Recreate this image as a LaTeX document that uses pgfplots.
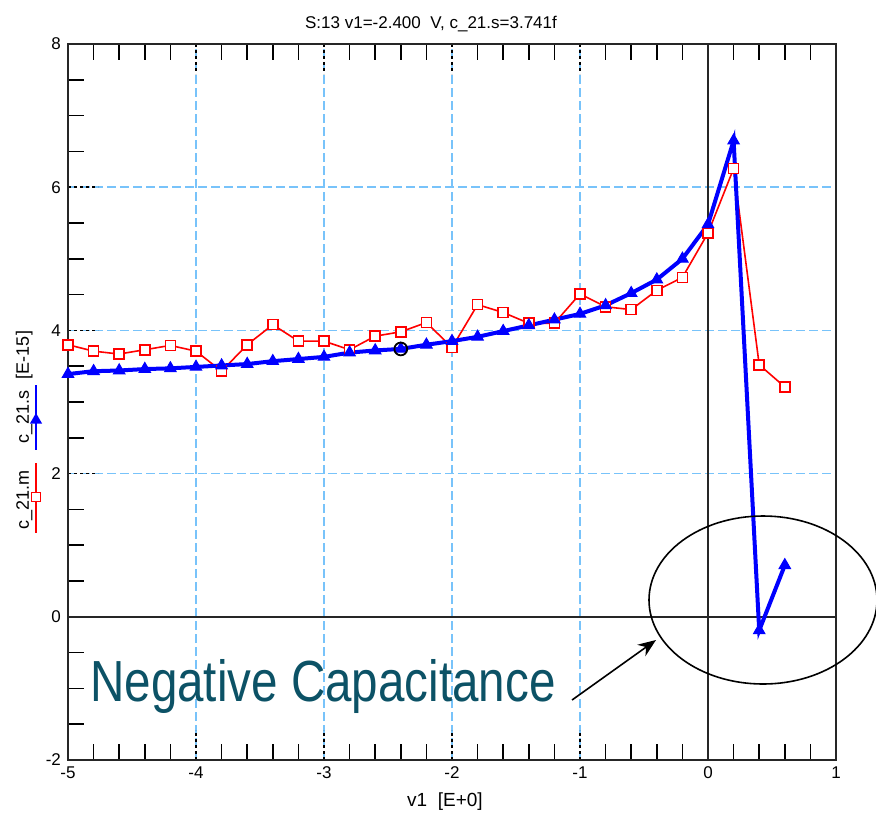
\documentclass[border=0pt]{standalone}
\usepackage{fontspec}
\setmainfont{Liberation Sans}
\usepackage{pgfplots}
\usepackage{pgfplotstable}
\pgfplotsset{compat=1.18}
\usetikzlibrary{arrows.meta,shapes.geometric}
\definecolor{gridblue}{RGB}{120,195,250}
\definecolor{annot}{RGB}{12,82,102}
\pgfplotstableread{
x y
-5.0 3.80
-4.8 3.71
-4.6 3.67
-4.4 3.73
-4.2 3.79
-4.0 3.71
-3.8 3.43
-3.6 3.80
-3.4 4.08
-3.2 3.85
-3.0 3.85
-2.8 3.73
-2.6 3.92
-2.4 3.98
-2.2 4.11
-2.0 3.76
-1.8 4.36
-1.6 4.25
-1.4 4.10
-1.2 4.10
-1.0 4.51
-0.8 4.33
-0.6 4.29
-0.4 4.56
-0.2 4.74
0.0 5.36
0.2 6.26
0.4 3.52
0.6 3.21
}\cm
\pgfplotstableread{
x y
-5.0 3.39
-4.8 3.43
-4.6 3.44
-4.4 3.46
-4.2 3.47
-4.0 3.49
-3.8 3.51
-3.6 3.53
-3.4 3.57
-3.2 3.60
-3.0 3.63
-2.8 3.69
-2.6 3.72
-2.4 3.741
-2.2 3.80
-2.0 3.85
-1.8 3.91
-1.6 3.99
-1.4 4.07
-1.2 4.15
-1.0 4.23
-0.8 4.35
-0.6 4.52
-0.4 4.71
-0.2 5.00
0.0 5.48
0.2 6.65
0.4 -0.19
0.6 0.72
}\cs
\begin{document}
\begin{tikzpicture}
\begin{axis}[name=ax, scale only axis, width=384pt, height=358pt,
 xmin=-5, xmax=1, ymin=-2, ymax=8,
 xtick={-5,-4,-3,-2,-1,0,1}, xticklabels={-5,-4,-3,-2,-1,0,1},
 ytick={-2,0,2,4,6,8}, yticklabels={-2,0,2,4,6,8},
 minor x tick num=4, minor y tick num=3,
 tick align=inside, xtick pos=both, ytick pos=left,
 major tick length=15pt, minor tick length=8pt,
 every tick/.style={black, line width=0.75pt},
 every major tick/.append style={dash pattern=on 1.5pt off 1.5pt},
 grid=major,
 major grid style={gridblue, line width=0.75pt, dash pattern=on 4.5pt off 2pt},
 axis line style={black!85, line width=1pt},
 ticklabel style={font=\fontsize{8.5}{9}\selectfont},
]
\draw[black!85, line width=1pt] (axis cs:0,-2) -- (axis cs:0,8);
\draw[black!85, line width=1pt] (axis cs:-5,0) -- (axis cs:1,0);
\addplot[red, line width=0.8pt, mark=square*, mark size=2.5pt, mark options={fill=white, solid, line width=0.8pt}] table {\cm};
\addplot[blue, line width=2pt, mark=triangle*, mark size=3.3pt, mark options={solid, line width=0.5pt}] table {\cs};
\addplot[black, only marks, mark=o, mark size=3.2pt, mark options={line width=0.9pt}] coordinates {(-2.4,3.741)};
\end{axis}
\begin{scope}[shift={(ax.south west)}, xshift=-34pt, yshift=380pt, x=0.5pt, y=-0.5pt]
\node[font=\fontsize{8.5}{9}\selectfont] at (431,24) {S:13 v1=-2.400\ \ V, c\_21.s=3.741f};
\node[font=\fontsize{9.5}{10}\selectfont, anchor=base] at (445,806) {v1\ \ [E+0]};
% y label with legend swatches
\node[rotate=90, anchor=base, font=\fontsize{9}{10}\selectfont, inner sep=0] at (29,500) {c\_21.m};
\node[rotate=90, anchor=base, font=\fontsize{9}{10}\selectfont, inner sep=0] at (29,417) {c\_21.s};
\node[rotate=90, anchor=base, font=\fontsize{9}{10}\selectfont, inner sep=0] at (29,355) {[E-15]};
\draw[red, line width=0.8pt] (36,463) -- (36,533);
\node[draw=red, fill=white, line width=0.8pt, minimum size=4.5pt, inner sep=0] at (36,497) {};
\draw[blue, line width=0.9pt] (36,385) -- (36,450);
\node[fill=blue, regular polygon, regular polygon sides=3, minimum size=7pt, inner sep=0] at (36,420) {};
% annotation
\node[anchor=base west, font=\fontsize{29}{30}\selectfont, text=annot, xscale=0.82, inner sep=0] at (90,701) {Negative Capacitance};
\draw[line width=0.8pt, -{Stealth[length=9pt, width=7pt]}] (572,700) -- (656,640);
\draw[line width=0.8pt] (763,600) ellipse [x radius=114, y radius=84];
\pgfresetboundingbox
\path[use as bounding box] (0,0) rectangle (876,816);
\end{scope}
\end{tikzpicture}
\end{document}
